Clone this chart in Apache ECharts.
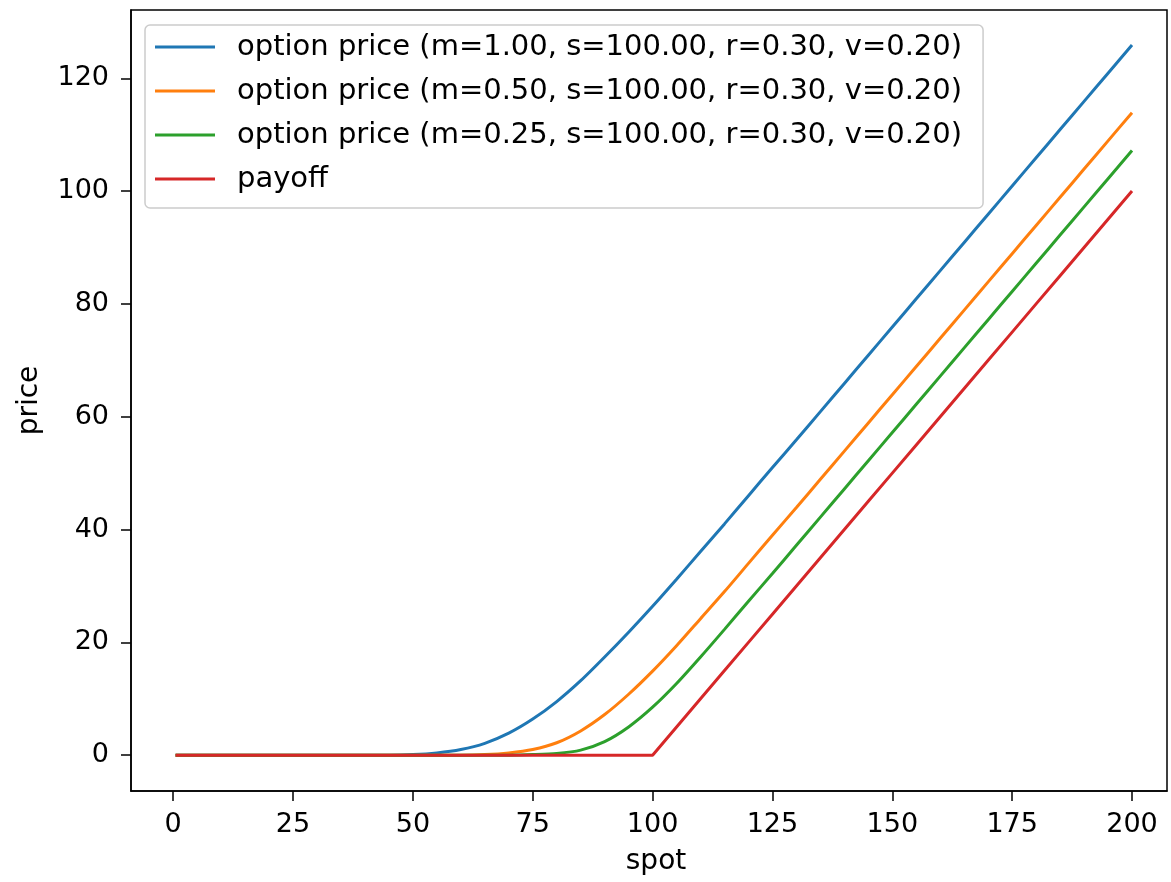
<!DOCTYPE html>
<html>
<head>
<meta charset="utf-8">
<script src="https://cdn.jsdelivr.net/npm/echarts@6/dist/echarts.min.js"></script>
<style>
  html, body { margin: 0; padding: 0; background: #fff; }
  #chart { width: 1171px; height: 882px; }
</style>
</head>
<body>
<div id="chart"></div>
<script>
// spot grid the curves were read at
var spot = [0.5, 5, 10, 15, 20, 25, 30, 35, 40, 45, 50, 55, 60, 65, 70, 75, 80, 85, 90, 95, 100,
  105, 110, 115, 120, 125, 130, 135, 140, 145, 150, 155, 160, 165, 170, 175, 180, 185, 190, 195, 200]

var priceM100 = [0, 0, 0, 0, 0, 0, 0, 0, 0, 0, 0.1, 0.4, 1.0, 2.1, 3.9, 6.4, 9.5, 13.2, 17.4, 21.8, 26.4,
  31.2, 36.1, 41.0, 46.0, 51.0, 55.9, 60.9, 65.9, 70.9, 75.9, 80.9, 85.9, 90.9, 95.9, 100.9, 105.9, 110.9, 115.9, 120.9, 125.9]
var priceM050 = [0, 0, 0, 0, 0, 0, 0, 0, 0, 0, 0, 0, 0, 0.1, 0.4, 1.0, 2.2, 4.3, 7.2, 10.8, 14.9,
  19.4, 24.2, 29.0, 34.0, 39.0, 43.9, 48.9, 53.9, 58.9, 63.9, 68.9, 73.9, 78.9, 83.9, 88.9, 93.9, 98.9, 103.9, 108.9, 113.9]
var priceM025 = [0, 0, 0, 0, 0, 0, 0, 0, 0, 0, 0, 0, 0, 0, 0, 0.1, 0.3, 0.9, 2.4, 5.0, 8.5,
  12.7, 17.4, 22.3, 27.3, 32.2, 37.2, 42.2, 47.2, 52.2, 57.2, 62.2, 67.2, 72.2, 77.2, 82.2, 87.2, 92.2, 97.2, 102.2, 107.2]
var payoff = [0, 0, 0, 0, 0, 0, 0, 0, 0, 0, 0, 0, 0, 0, 0, 0, 0, 0, 0, 0, 0,
  5, 10, 15, 20, 25, 30, 35, 40, 45, 50, 55, 60, 65, 70, 75, 80, 85, 90, 95, 100]

var seriesNames = [
  'option price (m=1.00, s=100.00, r=0.30, v=0.20)',
  'option price (m=0.50, s=100.00, r=0.30, v=0.20)',
  'option price (m=0.25, s=100.00, r=0.30, v=0.20)',
  'payoff'
]
var xTicks = [0, 25, 50, 75, 100, 125, 150, 175, 200]
var yTicks = [0, 20, 40, 60, 80, 100, 120]

var colors = ['#1f77b4', '#ff7f0e', '#2ca02c', '#d62728']
var font = 'DejaVu Sans'

function pairs(ys) {
  return spot.map(function (x, i) { return [x, ys[i]] })
}

function line(name, ys, color, smooth) {
  return {
    name: name,
    type: 'line',
    data: pairs(ys),
    showSymbol: false,
    smooth: smooth ? 0.25 : false,
    lineStyle: { color: color, width: 3 },
    itemStyle: { color: color },
    animation: false
  }
}

var chart = echarts.init(document.getElementById('chart'))
chart.setOption({
  backgroundColor: '#fff',
  textStyle: { fontFamily: font },
  grid: {
    left: 131, top: 10, right: 4, bottom: 91,
    show: true, borderColor: '#000', borderWidth: 1.5
  },
  legend: {
    orient: 'vertical',
    left: 145,
    top: 25,
    data: seriesNames,
    icon: 'rect',
    itemWidth: 60,
    itemHeight: 3,
    itemGap: 4,
    padding: [2, 21, 9, 10],
    backgroundColor: 'rgba(255,255,255,0.8)',
    borderColor: '#cccccc',
    borderWidth: 1.5,
    borderRadius: 5,
    textStyle: {
      fontFamily: font, fontSize: 29, color: '#000',
      lineHeight: 40, padding: [0, 0, 0, 17]
    }
  },
  xAxis: {
    type: 'value',
    min: -8.8,
    max: 207.3,
    name: 'spot',
    nameLocation: 'middle',
    nameGap: 57,
    nameTextStyle: { fontFamily: font, fontSize: 28, color: '#000', padding: [0, 0, 0, 14] },
    axisLine: { show: true, onZero: false, lineStyle: { color: '#000', width: 1.5 } },
    axisTick: { show: true, length: 10, customValues: xTicks, lineStyle: { color: '#000', width: 1.5 } },
    axisLabel: { customValues: xTicks, margin: 20, fontFamily: font, fontSize: 27, color: '#000' },
    splitLine: { show: false }
  },
  yAxis: {
    type: 'value',
    min: -6.35,
    max: 132.1,
    name: 'price',
    nameLocation: 'middle',
    nameRotate: 90,
    nameGap: 87,
    nameTextStyle: { fontFamily: font, fontSize: 28, color: '#000' },
    axisLine: { show: true, onZero: false, lineStyle: { color: '#000', width: 1.5 } },
    axisTick: { show: true, length: 10, customValues: yTicks, lineStyle: { color: '#000', width: 1.5 } },
    axisLabel: { customValues: yTicks, margin: 22, fontFamily: font, fontSize: 27, color: '#000' },
    splitLine: { show: false }
  },
  series: [
    line(seriesNames[0], priceM100, colors[0], true),
    line(seriesNames[1], priceM050, colors[1], true),
    line(seriesNames[2], priceM025, colors[2], true),
    line(seriesNames[3], payoff, colors[3], false)
  ]
})
</script>
</body>
</html>
